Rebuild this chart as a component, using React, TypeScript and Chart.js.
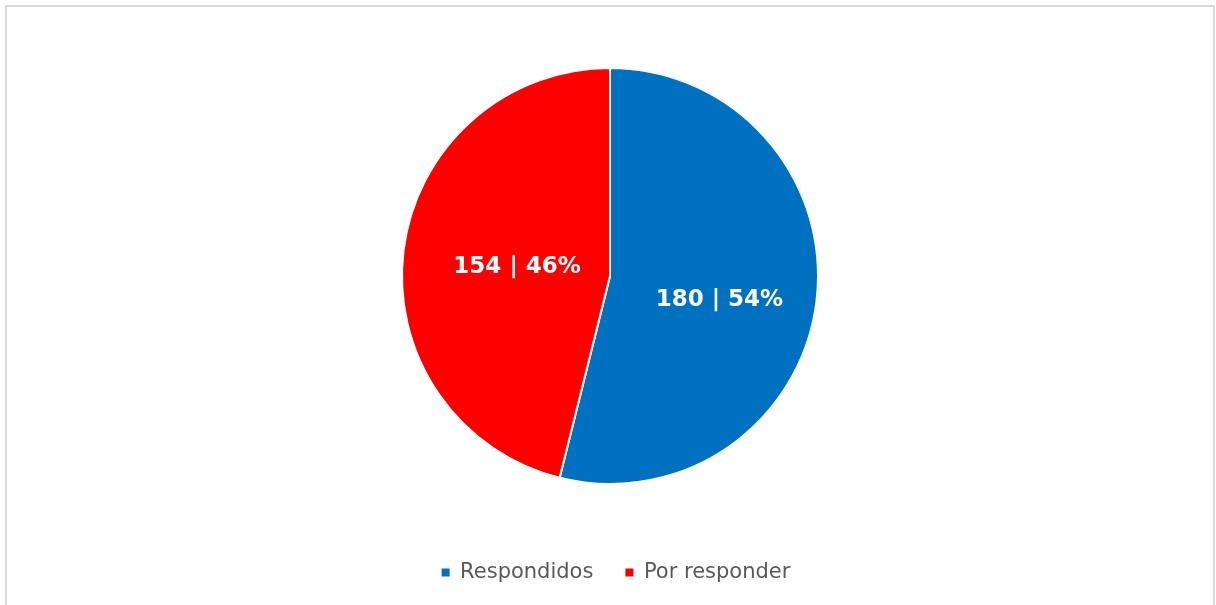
import React, { useEffect, useRef } from "react";
import { Chart, registerables } from "chart.js";

Chart.register(...registerables);

const categories = ["Respondidos", "Por responder"];
const values = [180, 154];
const colors = ["#0070C0", "#FF0000"];

// label placement style (fraction of radius, vertical nudge)
const labelRadiusFrac = [0.53, 0.45];
const labelNudgeY = [11, 2];
const legendShiftX = 6;

const sliceLabels = {
  id: "sliceLabels",
  afterLayout(chart: any) {
    if (chart.legend) {
      chart.legend.left += legendShiftX;
      chart.legend.right += legendShiftX;
    }
  },
  afterDatasetsDraw(chart: any) {
    const ctx = chart.ctx;
    const meta = chart.getDatasetMeta(0);
    const data = chart.data.datasets[0].data as number[];
    const total = data.reduce((a, b) => a + b, 0);
    ctx.save();
    ctx.font = "bold 23px 'DejaVu Sans'";
    ctx.fillStyle = "#FFFFFF";
    ctx.textAlign = "center";
    ctx.textBaseline = "middle";
    meta.data.forEach((arc: any, i: number) => {
      const p = arc.getProps(["x", "y", "startAngle", "endAngle", "outerRadius"], true);
      const mid = (p.startAngle + p.endAngle) / 2;
      const r = p.outerRadius * labelRadiusFrac[i];
      const x = p.x + Math.cos(mid) * r;
      const y = p.y + Math.sin(mid) * r + labelNudgeY[i];
      const pct = Math.round((data[i] / total) * 100);
      ctx.fillText(`${data[i]} | ${pct}%`, x, y);
    });
    ctx.restore();
  },
};

export default function App() {
  const ref = useRef<HTMLCanvasElement>(null);
  useEffect(() => {
    if (!ref.current) return;
    const baseGen = (Chart as any).overrides.pie.plugins.legend.labels.generateLabels;
    const chart = new Chart(ref.current, {
      type: "pie",
      data: {
        labels: categories,
        datasets: [
          {
            data: values,
            backgroundColor: colors,
            borderColor: "#FFFFFF",
            borderWidth: 2,
          },
        ],
      },
      options: {
        animation: false,
        responsive: false,
        maintainAspectRatio: false,
        radius: 208,
        layout: { padding: { left: 10, top: 22, right: 0, bottom: 37 } },
        plugins: {
          tooltip: { enabled: false },
          legend: {
            position: "bottom",
            labels: {
              boxWidth: 8,
              boxHeight: 8,
              padding: 32,
              color: "#595959",
              font: { family: "'DejaVu Sans'", size: 21 },
              generateLabels: (c: any) =>
                baseGen(c).map((it: any) => ({ ...it, lineWidth: 0, strokeStyle: it.fillStyle })),
            },
          },
        },
      },
      plugins: [sliceLabels],
    });
    return () => chart.destroy();
  }, []);
  return (
    <div style={{ position: "fixed", left: 0, top: 0, width: 1216, height: 605, background: "#fff", overflow: "hidden" }}>
      <canvas ref={ref} width={1216} height={630} style={{ position: "absolute", left: -3, top: 0 }} />
      <div
        style={{
          position: "absolute",
          left: 5,
          top: 5,
          width: 1206,
          height: 620,
          borderLeft: "2px solid #D9D9D9",
          borderTop: "2px solid #D9D9D9",
          borderRight: "2px solid #D9D9D9",
          pointerEvents: "none",
        }}
      />
    </div>
  );
}
